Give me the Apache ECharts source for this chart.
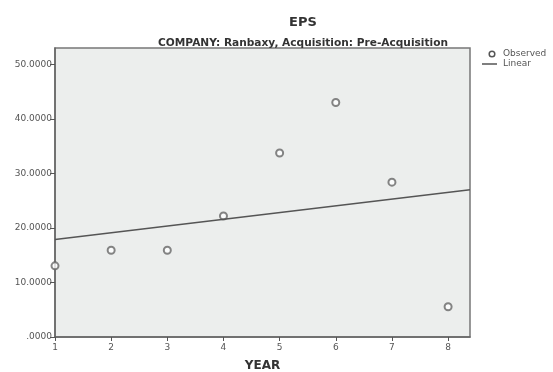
<!DOCTYPE html>
<html>
<head>
<meta charset="utf-8">
<script src="https://cdn.jsdelivr.net/npm/echarts@6/dist/echarts.min.js"></script>
<style>html,body{margin:0;padding:0;background:#fff}#c{width:553px;height:372px}</style>
</head>
<body>
<div id="c"></div>
<script>
var years = [1, 2, 3, 4, 5, 6, 7, 8];
var observed = [13.05, 15.9, 15.9, 22.2, 33.75, 43.0, 28.4, 5.55];
var linearX = [1, 8.39];
var linearY = [17.9, 27.0];
var yTicks = [0, 10, 20, 30, 40, 50];
var xTicks = [1, 2, 3, 4, 5, 6, 7, 8];
var legendNames = ['Observed', 'Linear'];

var chart = echarts.init(document.getElementById('c'));
var font = 'DejaVu Sans, sans-serif';
chart.setOption({
  animation: false,
  textStyle: { fontFamily: font },
  title: [
    { text: 'EPS', left: 298, top: 11, textAlign: 'center',
      textStyle: { fontSize: 13, fontWeight: 'bold', color: '#333', fontFamily: font } },
    { text: 'COMPANY: Ranbaxy, Acquisition: Pre-Acquisition', left: 298, top: 33, textAlign: 'center',
      textStyle: { fontSize: 10.6, fontWeight: 'bold', color: '#333', fontFamily: font } }
  ],
  graphic: [
    { type: 'circle', shape: { cx: 492, cy: 54, r: 2.8 }, style: { fill: 'none', stroke: '#555', lineWidth: 1.5 } },
    { type: 'text', left: 503, top: 49, style: { text: legendNames[0], fontSize: 9, fill: '#555', fontFamily: font } },
    { type: 'line', shape: { x1: 482, y1: 64, x2: 497, y2: 64 }, style: { stroke: '#555', lineWidth: 1.5 } },
    { type: 'text', left: 503, top: 59, style: { text: legendNames[1], fontSize: 9, fill: '#555', fontFamily: font } }
  ],
  grid: { left: 55, right: 83, top: 48, bottom: 35, containLabel: false, outerBoundsMode: 'none',
    show: true, backgroundColor: '#eceeed', borderColor: '#777', borderWidth: 1.5 },
  xAxis: {
    type: 'value', min: 1, max: 8.39, interval: 1,
    name: 'YEAR', nameLocation: 'middle', nameGap: 23,
    nameTextStyle: { fontSize: 12, fontWeight: 'bold', color: '#333', fontFamily: font },
    axisLine: { show: true, lineStyle: { color: '#666', width: 1.5 } },
    axisTick: { show: true, length: 4, customValues: xTicks, lineStyle: { color: '#555' } },
    axisLabel: { fontSize: 9, color: '#555', margin: 6, customValues: xTicks, fontFamily: font },
    splitLine: { show: false }
  },
  yAxis: {
    type: 'value', min: 0, max: 53, interval: 10,
    axisLine: { show: true, lineStyle: { color: '#666', width: 1.5 } },
    axisTick: { show: true, length: 5, customValues: yTicks, lineStyle: { color: '#555' } },
    axisLabel: { fontSize: 9, color: '#555', margin: 3, customValues: yTicks, fontFamily: font,
      formatter: function (v) { return v === 0 ? '.0000' : v.toFixed(4); } },
    splitLine: { show: false }
  },
  series: [
    { name: 'Observed', type: 'scatter', symbol: 'emptyCircle', symbolSize: 7, clip: false,
      itemStyle: { color: '#666', borderColor: '#666', borderWidth: 1.4 },
      data: years.map(function (y, i) { return [y, observed[i]]; }) },
    { name: 'Linear', type: 'line', showSymbol: false, symbol: 'none',
      lineStyle: { color: '#555', width: 1.5 }, itemStyle: { color: '#555' },
      data: linearX.map(function (x, i) { return [x, linearY[i]]; }) }
  ]
});
</script>
</body>
</html>
